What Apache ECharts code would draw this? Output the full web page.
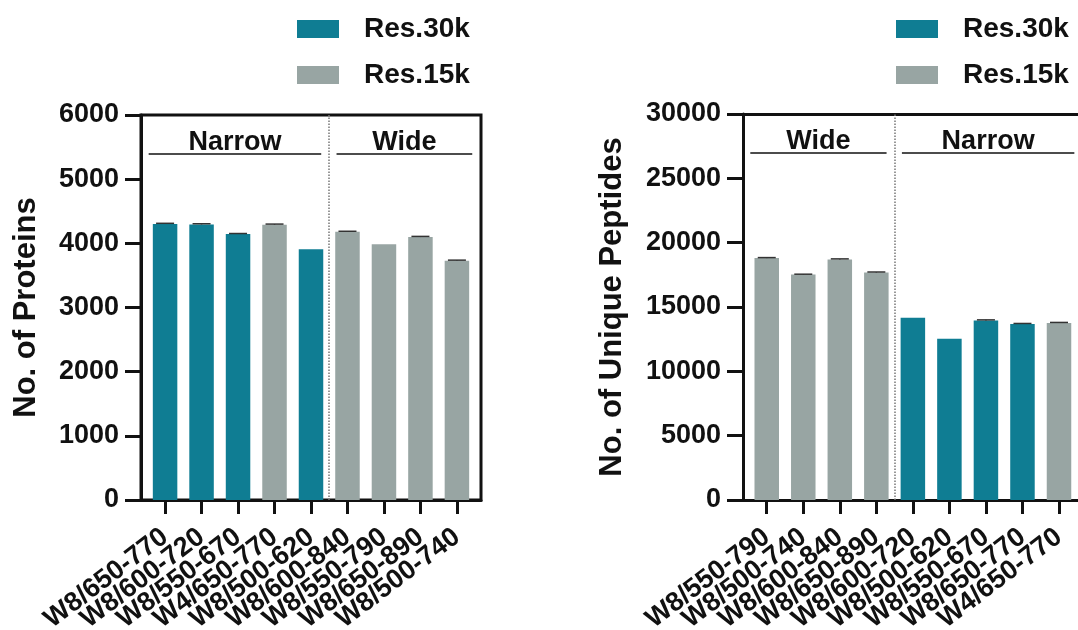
<!DOCTYPE html>
<html>
<head>
<meta charset="utf-8">
<script src="https://cdn.jsdelivr.net/npm/echarts@6/dist/echarts.min.js"></script>
<style>
  html, body { margin: 0; padding: 0; background: #fff; }
  #chart { width: 1078px; height: 630px; }
</style>
</head>
<body>
<div id="chart"></div>
<script>
// Protein counts per acquisition window
const proteinCategories = ['W8/650-770', 'W8/600-720', 'W8/550-670', 'W4/650-770', 'W8/500-620', 'W8/600-840', 'W8/550-790', 'W8/650-890', 'W8/500-740'];
const proteinValues = [4300, 4295, 4145, 4290, 3907, 4180, 3985, 4098, 3730];
const proteinErrors = [12, 10, 8, 10, 0, 8, 0, 10, 8];
const proteinResolution = ['Res.30k', 'Res.30k', 'Res.30k', 'Res.15k', 'Res.30k', 'Res.15k', 'Res.15k', 'Res.15k', 'Res.15k'];
const proteinGroups = [['Narrow', 0, 4], ['Wide', 5, 8]];
const proteinTicks = [0, 1000, 2000, 3000, 4000, 5000, 6000];

// Unique peptide counts per acquisition window
const peptideCategories = ['W8/550-790', 'W8/500-740', 'W8/600-840', 'W8/650-890', 'W8/600-720', 'W8/500-620', 'W8/550-670', 'W8/650-770', 'W4/650-770'];
const peptideValues = [18800, 17520, 18700, 17680, 14170, 12540, 13960, 13680, 13760];
const peptideErrors = [40, 30, 40, 40, 0, 0, 40, 40, 40];
const peptideResolution = ['Res.15k', 'Res.15k', 'Res.15k', 'Res.15k', 'Res.30k', 'Res.30k', 'Res.30k', 'Res.30k', 'Res.15k'];
const peptideGroups = [['Wide', 0, 3], ['Narrow', 4, 8]];
const peptideTicks = [0, 5000, 10000, 15000, 20000, 25000, 30000];

const seriesNames = ['Res.30k', 'Res.15k'];
const COLORS = { 'Res.30k': '#0f7d93', 'Res.15k': '#98a5a3' };
const FONT = '"Liberation Sans", Arial, Helvetica, sans-serif';
const INK = '#111';

const chart = echarts.init(document.getElementById('chart'));

// The category labels are split over two stacked axes (even / odd positions)
// so that the tightly packed slanted labels are all kept.
function xAxesFor(gridIndex, cats, min, max) {
  const parity = [0, 1].map(p => cats.map((_, i) => i).filter(i => i % 2 === p));
  return parity.map((idx, p) => ({
    type: 'value', gridIndex, min, max, position: 'bottom', offset: 0,
    axisLine: { show: p === 0, onZero: false, lineStyle: { color: INK, width: 3 } },
    axisTick: { show: true, customValues: idx, length: 14, lineStyle: { color: INK, width: 3 } },
    axisLabel: {
      customValues: idx, rotate: 37, margin: 34,
      showMinLabel: true, showMaxLabel: true, hideOverlap: false,
      formatter: v => cats[Math.round(v)],
      fontFamily: FONT, fontWeight: 'bold', fontSize: 27, color: INK
    },
    splitLine: { show: false }
  }));
}

// Plain top frame line for a plot whose box runs past the page edge
function topFrame(gridIndex, min, max) {
  return {
    type: 'value', gridIndex, min, max, position: 'top',
    axisLine: { show: true, onZero: false, lineStyle: { color: INK, width: 3 } },
    axisTick: { show: false }, axisLabel: { show: false }, splitLine: { show: false }
  };
}

function yAxisFor(gridIndex, ticks, title, gap) {
  return {
    type: 'value', gridIndex, min: ticks[0], max: ticks[ticks.length - 1],
    interval: ticks[1] - ticks[0],
    name: title, nameLocation: 'middle', nameGap: gap,
    nameTextStyle: { fontFamily: FONT, fontWeight: 'bold', fontSize: 31, color: INK },
    axisLine: { show: true, onZero: false, lineStyle: { color: INK, width: 3 } },
    axisTick: { show: true, length: 16, lineStyle: { color: INK, width: 3 } },
    axisLabel: {
      margin: 22, formatter: v => String(v),
      showMinLabel: true, showMaxLabel: true,
      fontFamily: FONT, fontWeight: 'bold', fontSize: 27, color: INK
    },
    splitLine: { show: false }
  };
}

// Group bracket lines with their captions, plus the dotted divider between groups
function groupMarks(groups, yLevel) {
  const split = groups[0][2] + 0.5;
  const data = groups.map(([name, first, last]) => {
    const x1 = first === 0 ? first - 0.45 : split + 0.2;
    const x2 = first === 0 ? split - 0.22 : last + 0.42;
    return [
      { coord: [x1, yLevel], label: { show: true, formatter: name } },
      { coord: [x2, yLevel] }
    ];
  });
  data.push({ xAxis: split, label: { show: false }, lineStyle: { type: 'dotted', color: '#777', width: 1.5 } });
  return {
    silent: true, symbol: ['none', 'none'], animation: false,
    lineStyle: { type: 'solid', color: INK, width: 1.5 },
    label: {
      position: 'insideMiddleTop', distance: -2,
      fontFamily: FONT, fontWeight: 'bold', fontSize: 27, color: INK
    },
    data
  };
}

function barSeries(xAxisIndex, yAxisIndex, values, res, marks) {
  return seriesNames.map((name, k) => ({
    name, type: 'bar', xAxisIndex, yAxisIndex,
    barWidth: 24.5, barGap: '-100%',
    itemStyle: { color: COLORS[name] },
    data: values.map((v, i) => res[i] === name ? [i, v] : null).filter(d => d),
    markLine: k === 0 ? marks : undefined,
    z: 2
  }));
}

function errorSeries(xAxisIndex, yAxisIndex, values, errors) {
  return {
    type: 'custom', xAxisIndex, yAxisIndex, z: 3, silent: true,
    data: values.map((v, i) => [i, v, errors[i]]),
    renderItem(params, api) {
      const x = api.value(0), v = api.value(1), e = api.value(2);
      if (!e) return null;
      const base = api.coord([x, v]);
      const top = api.coord([x, v + e]);
      const hw = 9;
      const style = { stroke: '#333', lineWidth: 1.5 };
      return {
        type: 'group',
        children: [
          { type: 'line', shape: { x1: base[0], y1: base[1], x2: top[0], y2: top[1] }, style },
          { type: 'line', shape: { x1: top[0] - hw, y1: top[1], x2: top[0] + hw, y2: top[1] }, style }
        ]
      };
    }
  };
}

function legendAt(left) {
  return {
    left, top: 10, orient: 'vertical', icon: 'rect', selectedMode: false,
    itemWidth: 42, itemHeight: 18, itemGap: 18,
    data: seriesNames,
    textStyle: { fontFamily: FONT, fontWeight: 'bold', fontSize: 28, color: INK, padding: [0, 0, 0, 20] }
  };
}

chart.setOption({
  animation: false,
  backgroundColor: '#fff',
  legend: [legendAt(292), legendAt(891)],
  grid: [
    { left: 141, top: 115, width: 340, height: 385, containLabel: false, outerBoundsMode: 'none',
      show: true, borderColor: INK, borderWidth: 3, backgroundColor: 'transparent' },
    { left: 743, top: 114, width: 335, height: 386, containLabel: false, outerBoundsMode: 'none',
      show: false }
  ],
  xAxis: [
    ...xAxesFor(0, proteinCategories, -0.66, 8.66),
    ...xAxesFor(1, peptideCategories, -0.65, 8.52),
    topFrame(1, -0.65, 8.52)
  ],
  yAxis: [
    yAxisFor(0, proteinTicks, 'No. of Proteins', 99),
    yAxisFor(1, peptideTicks, 'No. of Unique Peptides', 115)
  ],
  series: [
    ...barSeries(0, 0, proteinValues, proteinResolution, groupMarks(proteinGroups, 5390)),
    errorSeries(0, 0, proteinValues, proteinErrors),
    ...barSeries(2, 1, peptideValues, peptideResolution, groupMarks(peptideGroups, 26950)),
    errorSeries(2, 1, peptideValues, peptideErrors)
  ]
});
</script>
</body>
</html>
